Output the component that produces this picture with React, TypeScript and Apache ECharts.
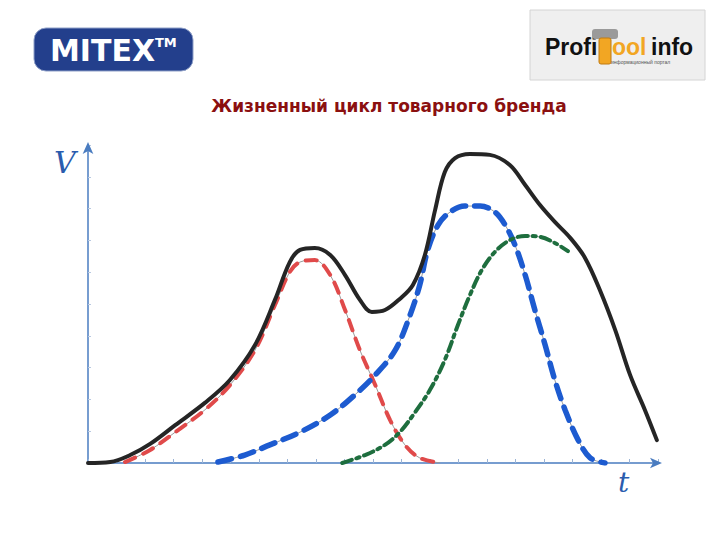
import React, { useEffect, useRef } from "react";
import * as echarts from "echarts";

// Units: x = time (0..100), y = volume V (0..100)
const blackX = [0, 3.9, 7.4, 10.9, 15.3, 20.5, 24.9, 29.3, 32.8, 35.4, 37.2, 39.8, 42.5, 45.1, 47.7, 49.8, 52.1, 54.7, 57.0, 59.1, 60.9, 62.6, 64.4, 67.0, 70.5, 74.0, 76.7, 79.3, 81.9, 84.6, 87.2, 89.8, 92.5, 95.1, 97.7, 99.8];
const blackY = [0, 0.3, 2.5, 6.0, 11.9, 18.9, 26.1, 37.1, 51.3, 63.2, 67.0, 67.6, 65.4, 59.1, 51.3, 47.5, 48.1, 51.6, 56.0, 65.4, 79.6, 91.5, 95.9, 97.2, 96.9, 93.7, 87.4, 81.1, 75.8, 70.8, 64.5, 54.4, 41.8, 27.7, 16.7, 7.2];

const redX = [6.5, 10.9, 15.3, 20.5, 24.9, 29.3, 32.8, 35.4, 37.2, 39.8, 42.5, 45.1, 47.7, 50.4, 53.0, 55.6, 58.2, 61.8];
const redY = [0.3, 4.1, 9.7, 16.7, 24.5, 35.5, 49.7, 60.1, 63.2, 63.8, 59.1, 48.1, 35.5, 24.5, 13.5, 5.7, 1.6, 0];

const blueX = [22.8, 27.5, 31.9, 37.2, 42.5, 46.8, 50.4, 53.9, 56.5, 58.2, 59.6, 61.4, 63.5, 66.1, 68.8, 71.4, 73.2, 74.9, 76.7, 78.4, 80.2, 81.9, 83.7, 86.0, 88.1, 90.7];
const blueY = [0.3, 2.5, 5.7, 9.7, 15.1, 21.4, 27.7, 35.5, 46.5, 56.0, 67.0, 74.8, 78.9, 80.8, 80.8, 78.9, 74.8, 68.6, 59.1, 48.1, 37.1, 26.1, 16.7, 7.2, 1.6, 0];

const greenX = [44.6, 48.6, 52.1, 54.7, 57.4, 60.0, 62.6, 64.9, 67.0, 69.1, 71.4, 74.0, 76.7, 79.3, 81.9, 84.2];
const greenY = [0, 2.5, 5.7, 9.7, 16.0, 23.0, 32.4, 43.4, 52.8, 60.7, 66.4, 70.1, 71.4, 71.1, 69.2, 66.6];

const title = "Жизненный цикл товарного бренда";
const yAxisLabel = "V";
const xAxisLabel = "t";

const zip = (xs: number[], ys: number[]) => xs.map((x, i) => [x, ys[i]]);

export default function App() {
  const ref = useRef<HTMLDivElement>(null);
  useEffect(() => {
    document.body.style.margin = "0";
    const chart = echarts.init(ref.current!, null, { renderer: "svg" });
    const axisColor = "#4a7cc0";
    const guide = (data: number[][]) => ({
      type: "line", data, smooth: 0.35, showSymbol: false, symbol: "none",
      lineStyle: { color: "#9a9a9a", width: 1 }, z: 2,
    });
    const dashed = (data: number[][], color: string, width: number, dash: number[]) => ({
      type: "line", data, smooth: 0.35, showSymbol: false, symbol: "none",
      lineStyle: { color, width, type: dash, cap: "round" }, z: 3,
    });
    chart.setOption({
      animation: false,
      backgroundColor: "#ffffff",
      title: {
        text: title, left: 384, top: 92, textAlign: "center",
        textStyle: { color: "#8b1010", fontSize: 17, fontWeight: "bold", fontFamily: "DejaVu Sans" },
      },
      grid: { left: 88, right: 62, top: 145, bottom: 77 },
      xAxis: {
        type: "value", min: 0, max: 100, interval: 5,
        axisLine: { show: true, lineStyle: { color: axisColor, width: 1.5 }, symbol: ["none", "arrow"], symbolSize: [8, 12], symbolOffset: [0, 4] },
        axisTick: { show: true, inside: true, length: 4, lineStyle: { color: "#9bb4d6" } },
        axisLabel: { show: false }, splitLine: { show: false },
      },
      yAxis: {
        type: "value", min: 0, max: 100, interval: 10,
        axisLine: { show: true, lineStyle: { color: axisColor, width: 1.5 }, symbol: ["none", "arrow"], symbolSize: [8, 12], symbolOffset: [0, 3] },
        axisTick: { show: true, inside: true, length: 3, lineStyle: { color: "#b8c8e0" } },
        axisLabel: { show: false }, splitLine: { show: false },
      },
      series: [
        guide(zip(redX, redY)),
        guide(zip(blueX, blueY)),
        guide(zip(greenX, greenY)),
        dashed(zip(redX, redY), "#e04a4a", 4, [11, 9]),
        dashed(zip(blueX, blueY), "#1d5bd0", 5.5, [14, 9]),
        dashed(zip(greenX, greenY), "#1e6e3e", 4, [10, 5, 3, 5]),
        {
          type: "line", data: zip(blackX, blackY), smooth: 0.35, showSymbol: false, symbol: "none",
          lineStyle: { color: "#252525", width: 4, cap: "round" }, z: 4,
        },
      ],
      graphic: [
        // MITEX logo
        { type: "rect", shape: { x: 34, y: 28, width: 159, height: 43, r: 12 }, style: { fill: "#233f8c", stroke: "#8fa0c8", lineWidth: 1 } },
        { type: "text", x: 50, y: 50, style: { text: "MITEX", fill: "#ffffff", font: "bold 30px 'DejaVu Sans'", textVerticalAlign: "middle" } },
        { type: "text", x: 155, y: 42, style: { text: "TM", fill: "#ffffff", font: "bold 13px 'DejaVu Sans'", textVerticalAlign: "middle" } },
        // ProfiToolinfo logo
        { type: "rect", shape: { x: 530, y: 10, width: 175, height: 70 }, style: { fill: "#efefef", stroke: "#d4d4d4", lineWidth: 1 } },
        { type: "text", x: 545, y: 47, style: { text: "Profi", fill: "#111111", font: "bold 23px 'Liberation Sans'", textVerticalAlign: "middle" } },
        { type: "rect", shape: { x: 592, y: 29, width: 26, height: 10, r: 3 }, style: { fill: "#9a9a9a" } },
        { type: "rect", shape: { x: 599, y: 38, width: 12, height: 26, r: 2 }, style: { fill: "#f2a623", stroke: "#c07a10", lineWidth: 1 } },
        { type: "text", x: 612, y: 47, style: { text: "ool", fill: "#f2a623", font: "bold 23px 'Liberation Sans'", textVerticalAlign: "middle" } },
        { type: "text", x: 651, y: 47, style: { text: "info", fill: "#111111", font: "bold 23px 'Liberation Sans'", textVerticalAlign: "middle" } },
        { type: "text", x: 611, y: 62, style: { text: "информационный портал", fill: "#555555", font: "5px 'Liberation Sans'", textVerticalAlign: "middle" } },
        // handwritten axis letters
        { type: "text", x: 54, y: 162, style: { text: yAxisLabel, fill: "#2a5cae", font: "italic 30px 'DejaVu Serif'", textVerticalAlign: "middle" } },
        { type: "text", x: 618, y: 482, style: { text: xAxisLabel, fill: "#2a5cae", font: "italic 28px 'DejaVu Serif'", textVerticalAlign: "middle" } },
      ],
    });
    return () => chart.dispose();
  }, []);
  return <div ref={ref} style={{ width: 720, height: 540 }} />;
}
